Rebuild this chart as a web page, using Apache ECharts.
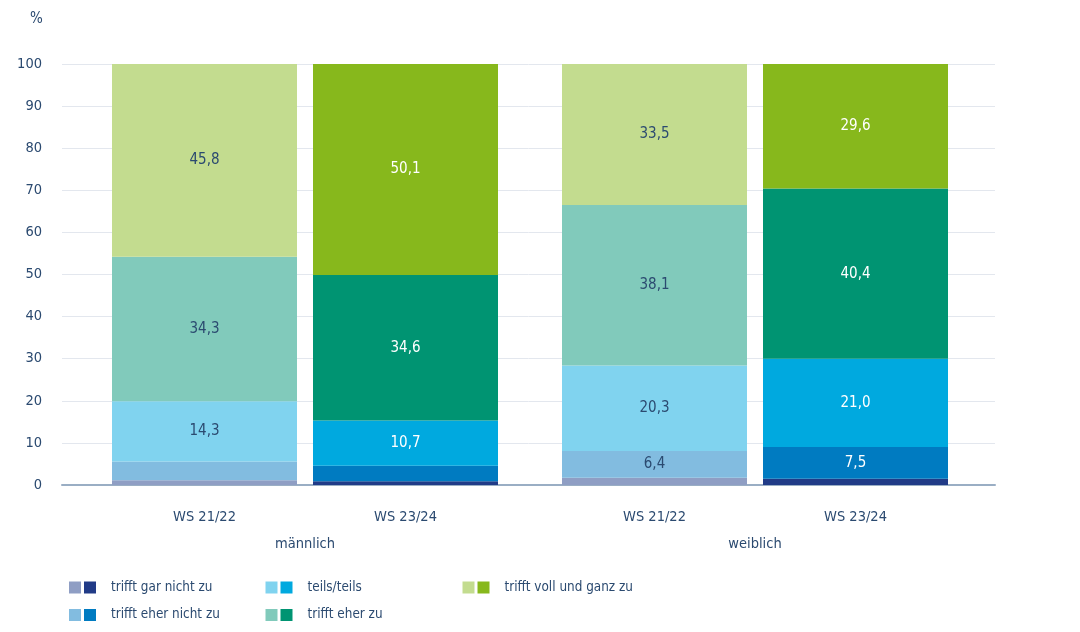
<!DOCTYPE html>
<html>
	<head>
		<meta charset="utf-8">
		<title></title>
		<script src="https://cdn.jsdelivr.net/npm/echarts@6/dist/echarts.min.js"></script>
		<style>
			html, body { margin: 0; padding: 0; background: #fff; }
		</style>
	</head>

	<body>
		<div id="main" style="width: 1080px; height: 632px;"></div>
		<script type="text/javascript">
			// Daten
			var periods = ['WS 21/22', 'WS 23/24'];
			var groups = ['männlich', 'weiblich'];
			var answers = ['trifft gar nicht zu', 'trifft eher nicht zu', 'teils/teils', 'trifft eher zu', 'trifft voll und ganz zu'];
			// je Antwort: [WS 21/22, WS 23/24]
			var maennlich = [
				[1.1, 0.9],
				[4.5, 3.7],
				[14.3, 10.7],
				[34.3, 34.6],
				[45.8, 50.1]
			];
			var weiblich = [
				[1.7, 1.5],
				[6.4, 7.5],
				[20.3, 21.0],
				[38.1, 40.4],
				[33.5, 29.6]
			];
			var yTicks = [0, 10, 20, 30, 40, 50, 60, 70, 80, 90, 100];

			var lightColors = ['#8f9ec4', '#82bce0', '#80d3ef', '#81cabb', '#c3dc8f'];
			var darkColors = ['#213b87', '#007bc1', '#00a9df', '#009472', '#87b81c'];

			var font = '"Liberation Sans Narrow", "DejaVu Sans Condensed", "Liberation Sans", sans-serif';
			var textColor = '#2b4a70';

			var myChart = echarts.init(document.getElementById('main'));

			function makeSeries(values, gridIdx) {
				return answers.map(function (name, i) {
					return {
						name: name,
						type: 'bar',
						stack: 'g' + gridIdx,
						xAxisIndex: gridIdx,
						yAxisIndex: gridIdx,
						barWidth: 185,
						data: values[i].map(function (v, j) {
							return {
								value: v,
								itemStyle: { color: j == 0 ? lightColors[i] : darkColors[i] },
								label: {
									show: v >= 5,
									color: j == 0 ? textColor : '#ffffff'
								}
							};
						}),
						label: {
							position: 'inside',
							fontFamily: font,
							fontSize: 15,
							formatter: function (p) {
								return p.value.toFixed(1).replace('.', ',');
							}
						}
					};
				});
			}

			function legendCol(names, left, withText) {
				return {
					orient: 'vertical',
					left: left,
					top: 578.5,
					height: 60,
					padding: 0,
					itemWidth: 12,
					itemHeight: 12,
					itemGap: 9.5,
					icon: 'rect',
					selectedMode: false,
					data: names.map(function (n) {
						var i = answers.indexOf(n);
						return { name: n, itemStyle: { color: withText ? darkColors[i] : lightColors[i] } };
					}),
					formatter: withText ? '{name}' : ' ',
					textStyle: {
						fontFamily: font,
						fontSize: 13.4,
						lineHeight: 18,
						color: textColor,
						padding: [0, 0, 0, 10]
					}
				};
			}

			var cols = [
				[answers[0], answers[1]],
				[answers[2], answers[3]],
				[answers[4]]
			];
			var colLeft = [69, 265.5, 462.5];
			var legends = [];
			cols.forEach(function (c, k) {
				legends.push(legendCol(c, colLeft[k], false));
				legends.push(legendCol(c, colLeft[k] + 15, true));
			});

			function yAxisOf(gridIdx, visible) {
				return {
					type: 'value',
					gridIndex: gridIdx,
					min: 0,
					max: 100,
					interval: 10,
					show: visible,
					axisLine: { show: false },
					axisTick: { show: false },
					axisLabel: {
						fontFamily: font,
						fontSize: 14.5,
						color: textColor,
						margin: 20,
						formatter: function (v) { return yTicks.indexOf(v) >= 0 ? v : ''; }
					},
					splitLine: { show: visible, lineStyle: { color: '#e3e7ee', width: 1 } }
				};
			}

			function xAxisOf(gridIdx, name) {
				return {
					type: 'category',
					gridIndex: gridIdx,
					data: periods,
					name: name,
					nameLocation: 'middle',
					nameGap: 52,
					nameTextStyle: { fontFamily: font, fontSize: 14.5, color: textColor },
					axisLine: { show: false },
					axisTick: { show: false },
					axisLabel: {
						fontFamily: font,
						fontSize: 14.5,
						color: textColor,
						margin: 25
					}
				};
			}

			option = {
				animation: false,
				title: {
					text: '%',
					left: 25,
					top: 7,
					textStyle: { fontFamily: font, fontSize: 15, fontWeight: 'normal', color: textColor }
				},
				grid: [
					{ left: 62, right: 85, top: 64, bottom: 147 },
					{ left: 104, width: 402, top: 64, bottom: 147 },
					{ left: 554, width: 402, top: 64, bottom: 147 }
				],
				xAxis: [
					{
						type: 'category',
						gridIndex: 0,
						data: [''],
						axisLine: { show: true, lineStyle: { color: '#9aaec4', width: 2 } },
						axisTick: { show: false },
						axisLabel: { show: false }
					},
					xAxisOf(1, groups[0]),
					xAxisOf(2, groups[1])
				],
				yAxis: [yAxisOf(0, true), yAxisOf(1, false), yAxisOf(2, false)],
				legend: legends,
				series: makeSeries(maennlich, 1).concat(makeSeries(weiblich, 2))
			};
			myChart.setOption(option);
		</script>
	</body>
</html>
